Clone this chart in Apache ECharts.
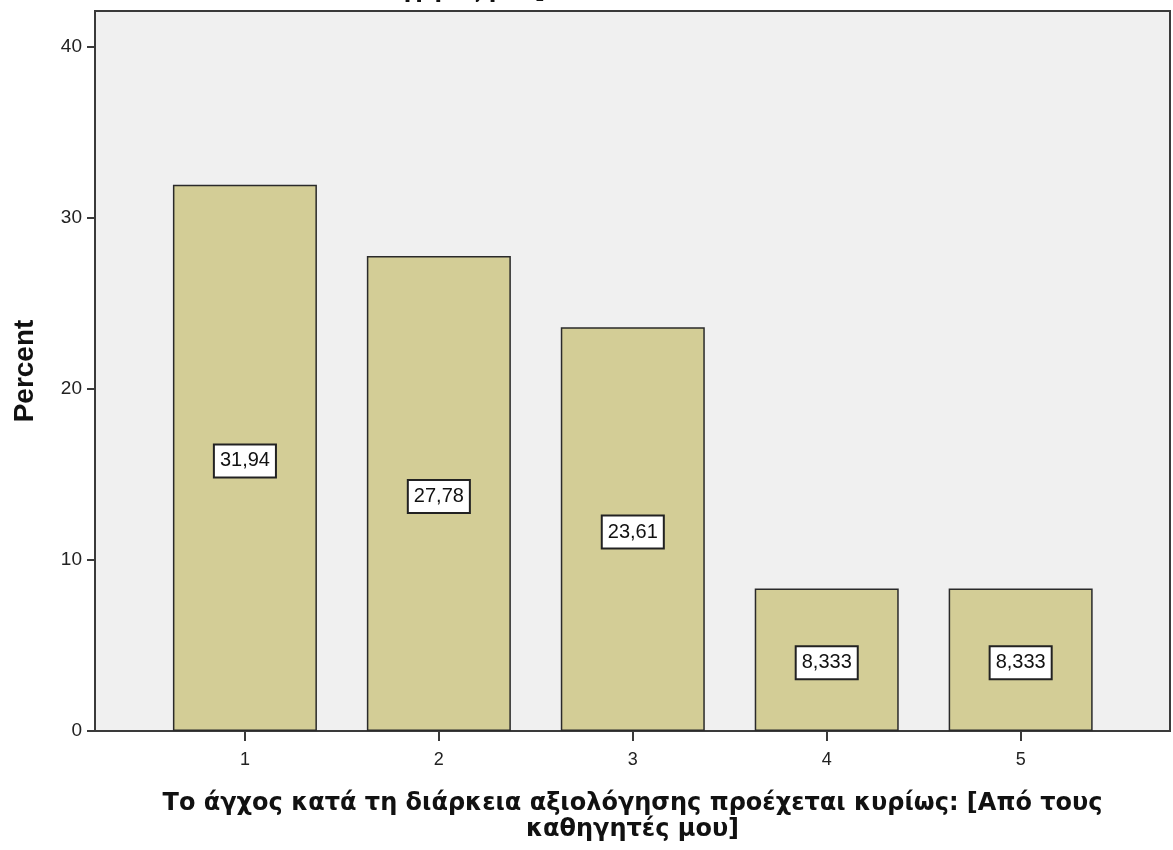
<!DOCTYPE html>
<html>
<head>
<meta charset="utf-8">
<script src="https://cdn.jsdelivr.net/npm/echarts@6/dist/echarts.min.js"></script>
<style>
html,body{margin:0;padding:0;background:#fff;}
#main{width:1173px;height:850px;}
</style>
</head>
<body>
<div id="main"></div>
<script>
const categories = [1, 2, 3, 4, 5];
const percents = [31.94, 27.78, 23.61, 8.333, 8.333];
const yTicks = [0, 10, 20, 30, 40];
const xTitle = 'Το άγχος κατά τη διάρκεια αξιολόγησης προέχεται κυρίως: [Από τους\nκαθηγητές μου]';
const yTitle = 'Percent';
const topFragment = 'καθηγητές μου]';

const font = '"Liberation Sans", Arial, sans-serif';
const titleFont = '"DejaVu Sans", Verdana, sans-serif';
const chart = echarts.init(document.getElementById('main'), null, {renderer: 'canvas'});
chart.setOption({
  animation: false,
  backgroundColor: '#ffffff',
  graphic: [{
    type: 'text', right: 1173 - 545, top: -19,
    style: {text: topFragment, font: 'bold 22px ' + titleFont, fill: '#111'}
  }],
  grid: {
    left: 95, right: 3, top: 11, bottom: 119,
    show: true, backgroundColor: '#f0f0f0', borderColor: '#3a3a3a', borderWidth: 2
  },
  xAxis: {
    type: 'value', min: 0.227, max: 5.77,
    name: xTitle, nameLocation: 'middle', nameGap: 60,
    nameTextStyle: {fontFamily: titleFont, fontWeight: 'bold', fontSize: 24, color: '#111', lineHeight: 26},
    axisLine: {show: true, lineStyle: {color: '#3a3a3a', width: 2}},
    axisTick: {show: true, customValues: categories, length: 10, lineStyle: {color: '#3a3a3a', width: 2}},
    axisLabel: {customValues: categories, fontFamily: font, fontSize: 18, color: '#222', margin: 20},
    splitLine: {show: false}
  },
  yAxis: {
    type: 'value', min: 0, max: 42.1,
    name: yTitle, nameLocation: 'middle', nameGap: 56,
    nameTextStyle: {fontFamily: font, fontWeight: 'bold', fontSize: 28, color: '#111'},
    axisLine: {show: true, lineStyle: {color: '#3a3a3a', width: 2}},
    axisTick: {show: true, customValues: yTicks, length: 8, lineStyle: {color: '#3a3a3a', width: 2}},
    axisLabel: {customValues: yTicks, fontFamily: font, fontSize: 19, color: '#222', margin: 13},
    splitLine: {show: false}
  },
  series: [{
    type: 'bar',
    data: categories.map((c, i) => [c, percents[i]]),
    barWidth: 144,
    itemStyle: {color: '#d3cd96', borderColor: '#2a2a2a', borderWidth: 1.5},
    label: {
      show: true, position: 'inside', offset: [0, 3],
      formatter: p => String(p.value[1]).replace('.', ','),
      fontFamily: font, fontSize: 20, color: '#111',
      backgroundColor: '#ffffff', borderColor: '#222', borderWidth: 2,
      padding: [6, 5, 5, 5]
    }
  }]
});
</script>
</body>
</html>
